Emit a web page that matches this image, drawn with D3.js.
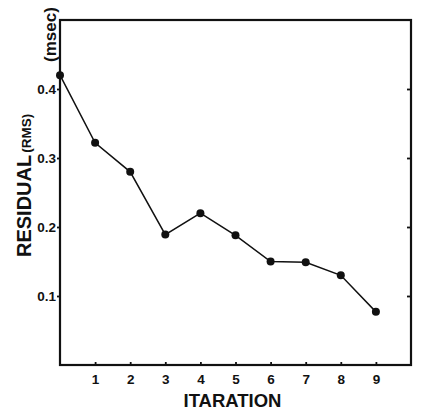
<!DOCTYPE html>
<html>
<head>
<meta charset="utf-8">
<script src="https://cdn.jsdelivr.net/npm/d3@7"></script>
<style>
  body { margin: 0; background: #fff; }
  text { font-family: "Liberation Sans", Arial, sans-serif; font-weight: bold; fill: #111; }
</style>
</head>
<body>
<svg id="chart" width="421" height="410"></svg>
<script>
// **** Data
const iterations = [0, 1, 2, 3, 4, 5, 6, 7, 8, 9];
const residuals = [0.42, 0.322, 0.28, 0.189, 0.22, 0.188, 0.15, 0.149, 0.13, 0.077];
const xTicks = [1, 2, 3, 4, 5, 6, 7, 8, 9];
const yTicks = [0.1, 0.2, 0.3, 0.4];

// **** Layout
const svg = d3.select("#chart");
const plotLeft = 60, plotRight = 411, plotTop = 20, plotBottom = 365;

const x = d3.scaleLinear().domain([0, 10]).range([plotLeft, plotRight]);
const y = d3.scaleLinear().domain([0, 0.5]).range([plotBottom, plotTop]);

// **** Frame
svg.append("rect")
  .attr("x", plotLeft).attr("y", plotTop)
  .attr("width", plotRight - plotLeft).attr("height", plotBottom - plotTop)
  .attr("fill", "none").attr("stroke", "#111").attr("stroke-width", 2.2);

// **** Axes (ticks only, the frame is the axis line)
const yAxisL = d3.axisLeft(y).tickValues(yTicks).tickFormat(d3.format(".1f"))
  .tickSizeInner(3).tickSizeOuter(0).tickPadding(1);
const gl = svg.append("g").attr("transform", `translate(${plotLeft},0)`).call(yAxisL);

const yAxisR = d3.axisRight(y).tickValues(yTicks).tickFormat("")
  .tickSizeInner(-4).tickSizeOuter(0);
const gr = svg.append("g").attr("transform", `translate(${plotRight},0)`).call(yAxisR);

const xAxis = d3.axisBottom(x).tickValues(xTicks).tickFormat(d3.format("d"))
  .tickSizeInner(-3).tickSizeOuter(0).tickPadding(9);
const gb = svg.append("g").attr("transform", `translate(0,${plotBottom})`).call(xAxis);

[gl, gr, gb].forEach(g => {
  g.select(".domain").remove();
  g.selectAll("line").attr("stroke", "#111").attr("stroke-width", 1.8);
  g.selectAll("text")
    .style("font-family", '"Liberation Sans", Arial, sans-serif')
    .style("font-weight", "bold")
    .style("font-size", "13.5px")
    .attr("fill", "#111");
});

// **** Line + dots
const line = d3.line().x((d, i) => x(iterations[i])).y(d => y(d));
svg.append("path")
  .datum(residuals)
  .attr("d", line)
  .attr("fill", "none")
  .attr("stroke", "#111")
  .attr("stroke-width", 1.5);

svg.selectAll("circle.pt")
  .data(residuals)
  .join("circle")
  .attr("class", "pt")
  .attr("cx", (d, i) => x(iterations[i]))
  .attr("cy", d => y(d))
  .attr("r", 4)
  .attr("fill", "#111");

// **** Labels
svg.append("text")
  .attr("x", (plotLeft + plotRight) / 2 - 3)
  .attr("y", 407)
  .attr("text-anchor", "middle")
  .style("font-size", "18.5px")
  .text("ITARATION");

const yl = svg.append("text")
  .attr("transform", "translate(31,257) rotate(-90)")
  .attr("text-anchor", "start");
yl.append("tspan").style("font-size", "20px").text("RESIDUAL");
yl.append("tspan").attr("dx", 2).style("font-size", "13.5px").text("(RMS)");

svg.append("text")
  .attr("transform", "translate(56,62) rotate(-90)")
  .attr("text-anchor", "start")
  .style("font-size", "17px")
  .text("(msec)");
</script>
</body>
</html>
